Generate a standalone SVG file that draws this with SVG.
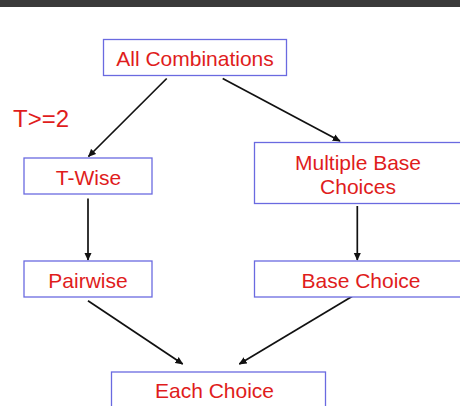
<svg xmlns="http://www.w3.org/2000/svg" width="460" height="406" viewBox="0 0 460 406">
<style>
.box{fill:#ffffff;stroke:#6a6ae0;stroke-width:1.3}
.lbl{font-family:"Liberation Sans","DejaVu Sans",sans-serif;font-size:21px;fill:#e01c1c;text-anchor:middle}
.edge{stroke:#111111;stroke-width:1.7;fill:none;marker-end:url(#ah)}
</style>
<defs>
<marker id="ah" viewBox="0 0 10 10" refX="9" refY="5" markerWidth="8" markerHeight="8" markerUnits="userSpaceOnUse" orient="auto">
<path d="M0,0.5 L10,5 L0,9.5 z" fill="#111111"/>
</marker>
</defs>
<rect x="0" y="0" width="460" height="406" fill="#ffffff"/>
<rect x="0" y="0" width="460" height="7" fill="#3a3a3a"/>
<text x="13" y="127" font-family="Liberation Sans, DejaVu Sans, sans-serif" font-size="24" fill="#e01c1c">T&gt;=2</text>
<g id="connectors">
<line class="edge" x1="166.7" y1="78.5" x2="88.5" y2="156.5"/>
<line class="edge" x1="222.7" y1="78.5" x2="340" y2="141"/>
<line class="edge" x1="88" y1="198.5" x2="88" y2="260"/>
<line class="edge" x1="357.3" y1="206" x2="357.3" y2="260"/>
<line class="edge" x1="88" y1="300.7" x2="182.7" y2="364"/>
<line class="edge" x1="357" y1="293.5" x2="239.3" y2="364"/>
</g>
<g id="node-all">
<rect class="box" x="103.5" y="39.5" width="183" height="36"/>
<text class="lbl" x="195" y="65.5">All Combinations</text>
</g>
<g id="node-twise">
<rect class="box" x="24" y="158" width="128" height="36"/>
<text class="lbl" x="88.5" y="185">T-Wise</text>
</g>
<g id="node-mbc">
<rect class="box" x="254.5" y="142.5" width="208" height="61"/>
<text class="lbl" x="358" y="170">Multiple Base</text>
<text class="lbl" x="358" y="194">Choices</text>
</g>
<g id="node-pairwise">
<rect class="box" x="24" y="261" width="128" height="36"/>
<text class="lbl" x="88" y="287.5">Pairwise</text>
</g>
<g id="node-base">
<rect class="box" x="254.5" y="261" width="208" height="36"/>
<text class="lbl" x="361" y="287.5">Base Choice</text>
</g>
<g id="node-each">
<rect class="box" x="111.5" y="372" width="214" height="40"/>
<text class="lbl" x="214.5" y="398">Each Choice</text>
</g>
</svg>
